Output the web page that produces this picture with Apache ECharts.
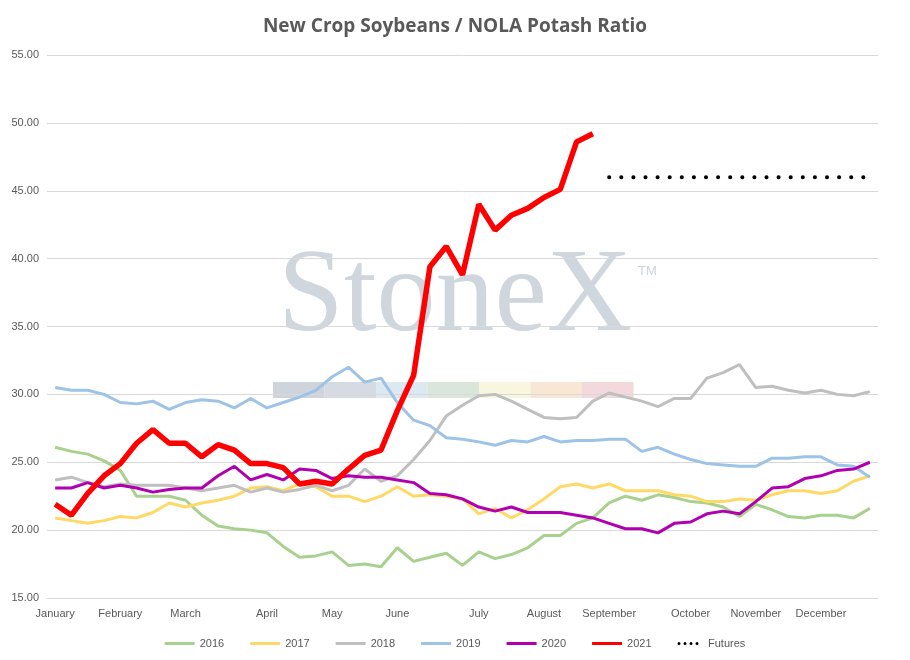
<!DOCTYPE html>
<html><head><meta charset="utf-8">
<script src="https://cdn.jsdelivr.net/npm/echarts@6/dist/echarts.min.js"></script>
<style>html,body{margin:0;background:#fff}#c{width:910px;height:660px}</style>
</head><body><div id="c"></div>
<script>
const weeks = Array.from({length:51},(_,i)=>'W'+(i+1));
const monthLabels = {0:'January',4:'February',8:'March',13:'April',17:'May',21:'June',26:'July',30:'August',34:'September',39:'October',43:'November',47:'December'};
const s2016 = [26.1,25.8,25.6,25.1,24.4,22.5,22.5,22.5,22.2,21.1,20.3,20.1,20.0,19.8,18.8,18.0,18.1,18.4,17.4,17.5,17.3,18.7,17.7,18.0,18.3,17.4,18.4,17.9,18.2,18.7,19.6,19.6,20.5,20.9,22.0,22.5,22.2,22.6,22.4,22.1,22.0,21.7,21.0,21.9,21.5,21.0,20.9,21.1,21.1,20.9,21.6];
const s2017 = [20.9,20.7,20.5,20.7,21.0,20.9,21.3,22.0,21.7,22.0,22.2,22.5,23.1,23.2,22.9,23.4,23.2,22.5,22.5,22.1,22.5,23.2,22.5,22.6,22.5,22.3,21.2,21.6,20.9,21.5,22.3,23.2,23.4,23.1,23.4,22.9,22.9,22.9,22.6,22.5,22.1,22.1,22.3,22.2,22.6,22.9,22.9,22.7,22.9,23.6,24.0];
const s2018 = [23.7,23.9,23.5,23.2,23.4,23.3,23.3,23.3,23.1,22.9,23.1,23.3,22.8,23.1,22.8,23.0,23.3,22.9,23.3,24.5,23.6,24.0,25.2,26.6,28.4,29.2,29.9,30.0,29.5,28.9,28.3,28.2,28.3,29.5,30.1,29.8,29.5,29.1,29.7,29.7,31.2,31.6,32.2,30.5,30.6,30.3,30.1,30.3,30.0,29.9,30.2];
const s2019 = [30.5,30.3,30.3,30.0,29.4,29.3,29.5,28.9,29.4,29.6,29.5,29.0,29.7,29.0,29.4,29.8,30.3,31.3,32.0,30.9,31.2,29.4,28.1,27.7,26.8,26.7,26.5,26.25,26.6,26.5,26.9,26.5,26.6,26.6,26.7,26.7,25.8,26.1,25.6,25.2,24.9,24.8,24.7,24.7,25.3,25.3,25.4,25.4,24.8,24.7,23.9];
const s2020 = [23.1,23.1,23.5,23.1,23.3,23.1,22.8,23.0,23.1,23.1,24.0,24.7,23.7,24.1,23.7,24.5,24.4,23.8,24.0,23.9,23.9,23.7,23.5,22.7,22.6,22.3,21.7,21.4,21.7,21.3,21.3,21.3,21.1,20.9,20.5,20.1,20.1,19.8,20.5,20.6,21.2,21.4,21.2,22.1,23.1,23.2,23.8,24.0,24.4,24.5,25.0];
const s2021 = [21.9,21.1,22.7,24.0,24.9,26.4,27.4,26.4,26.4,25.4,26.3,25.9,24.9,24.9,24.6,23.4,23.6,23.4,24.5,25.5,25.9,28.8,31.4,39.4,40.9,38.8,44.0,42.1,43.2,43.7,44.5,45.1,48.6,49.2];
const futures = [46.0,46.0,46.0,46.0,46.0,46.0,46.0,46.0,46.0,46.0,46.0,46.0,46.0,46.0,46.0,46.0,46.0];
const futuresStart = 34;
const futFull = weeks.map((_,i)=> i>=futuresStart && i-futuresStart<futures.length ? futures[i-futuresStart] : null);

const ch = echarts.init(document.getElementById('c'));
const mk = (name,data,color,w,extra)=>Object.assign({name,type:'line',data,symbol:'none',showSymbol:false,lineStyle:{color,width:w},itemStyle:{color},z:2},extra||{});
const strip = ['#c5ccd5','#cfd5de','#d6e4f0','#d3e2d6','#f7f4d9','#f8e3ce','#f2d2d6'];
const gfx = [{type:'text',left:'center',top:240,z:0,style:{text:'StoneX',font:'118px "Liberation Serif", serif',fill:'#d0d6de'}},
 {type:'text',left:638,top:265,z:0,style:{text:'TM',font:'13px Arial',fill:'#ccd3db'}}];
strip.forEach((c,i)=>gfx.push({type:'rect',z:0,shape:{x:273+i*51.5,y:382,width:51.5,height:16},style:{fill:c,opacity:0.85}}));
const dots = 'path://M2,2m-2,0a2,2 0 1,0 4,0a2,2 0 1,0 -4,0M10,2m-2,0a2,2 0 1,0 4,0a2,2 0 1,0 -4,0M18,2m-2,0a2,2 0 1,0 4,0a2,2 0 1,0 -4,0M26,2m-2,0a2,2 0 1,0 4,0a2,2 0 1,0 -4,0';
ch.setOption({
  animation:false,
  title:{text:'New Crop Soybeans / NOLA Potash Ratio',left:'center',top:12,textStyle:{fontFamily:'"Open Sans", sans-serif',fontSize:19,fontWeight:'bold',color:'#595959'}},
  graphic:gfx,
  grid:{left:47,right:32,top:55,bottom:62},
  legend:{left:'center',top:633,itemWidth:30,itemHeight:3,itemGap:26,icon:'rect',textStyle:{color:'#595959',fontSize:11},
    data:[{name:'2016'},{name:'2017'},{name:'2018'},{name:'2019'},{name:'2020'},{name:'2021',itemStyle:{color:'#ff0000'}},{name:'Futures',icon:dots}]},
  xAxis:{type:'category',data:weeks,boundaryGap:true,axisTick:{show:false},axisLine:{lineStyle:{color:'#d9d9d9'}},
    axisLabel:{interval:0,color:'#595959',fontSize:11,margin:10,formatter:(v,i)=>monthLabels[i]||''}},
  yAxis:{type:'value',min:15,max:55,interval:5,axisLine:{show:false},axisTick:{show:false},
    splitLine:{lineStyle:{color:'#d9d9d9'}},axisLabel:{color:'#595959',fontSize:11,formatter:v=>v.toFixed(2)}},
  series:[
    mk('2016',s2016,'#a9d18e',3),
    mk('2017',s2017,'#ffd966',3),
    mk('2018',s2018,'#bfbfbf',3),
    mk('2019',s2019,'#9dc3e6',3),
    mk('2020',s2020,'#b000b0',3),
    mk('2021',s2021,'#ff0000',5.5,{z:5}),
    mk('Futures',futFull,'#000000',4,{lineStyle:{color:'#000',width:4,type:[0.1,12],cap:'round'}})
  ]
});
</script></body></html>
